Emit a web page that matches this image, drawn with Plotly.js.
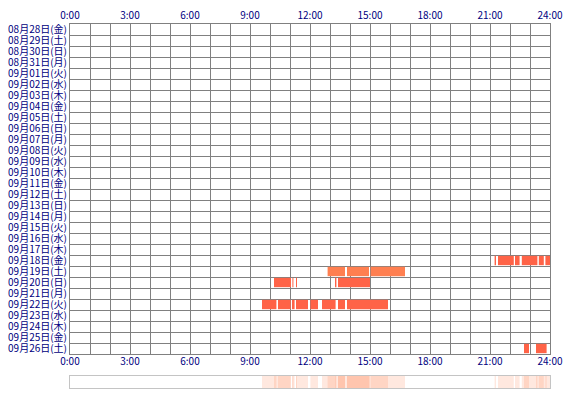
<!DOCTYPE html>
<html><head><meta charset="utf-8">
<script src="https://cdn.plot.ly/plotly-3.0.1.min.js"></script>
<style>html,body{margin:0;padding:0;background:#fff}</style>
</head><body><div id="chart" style="width:570px;height:400px"></div>
<script>
var dates = ['08月28日(金)','08月29日(土)','08月30日(日)','08月31日(月)','09月01日(火)','09月02日(水)','09月03日(木)','09月04日(金)','09月05日(土)','09月06日(日)','09月07日(月)','09月08日(火)','09月09日(水)','09月10日(木)','09月11日(金)','09月12日(土)','09月13日(日)','09月14日(月)','09月15日(火)','09月16日(水)','09月17日(木)','09月18日(金)','09月19日(土)','09月20日(日)','09月21日(月)','09月22日(火)','09月23日(水)','09月24日(木)','09月25日(金)','09月26日(土)'];
var hourTicks = [0,3,6,9,12,15,18,21,24];
var hourLabels = ['0:00','3:00','6:00','9:00','12:00','15:00','18:00','21:00','24:00'];
// activity segments (hours)
var segDay = ['09月18日(金)','09月18日(金)','09月18日(金)','09月18日(金)','09月18日(金)','09月18日(金)',
  '09月19日(土)','09月19日(土)','09月19日(土)',
  '09月20日(日)','09月20日(日)','09月20日(日)','09月20日(日)','09月20日(日)',
  '09月22日(火)','09月22日(火)','09月22日(火)','09月22日(火)','09月22日(火)','09月22日(火)','09月22日(火)','09月22日(火)',
  '09月26日(土)','09月26日(土)'];
var segStart = [21.23,21.40,22.25,22.59,23.44,23.77,
  12.88,13.85,15.03,
  10.20,11.12,11.30,13.25,13.40,
  9.60,10.40,11.10,11.30,12.02,12.60,13.40,13.85,
  22.70,23.30];
var segEnd = [21.30,22.19,22.48,23.37,23.69,24.00,
  13.75,14.95,16.75,
  11.05,11.17,11.35,13.32,15.00,
  10.32,11.03,11.23,11.90,12.40,13.28,13.75,15.90,
  22.95,23.83];

var FONT = 'Noto Sans CJK JP, sans-serif';
var NAVY = '#000080';
var GRID = '#808080';

var yPos = segDay.map(function(d){ return dates.indexOf(d) + 0.5; });
var dur = segEnd.map(function(e,i){ return e - segStart[i]; });
var cols = segDay.map(function(d){ return d === '09月19日(土)' ? '#FF7F50' : '#FF6347'; });

var traces = [
  {type:'bar', orientation:'h', x:dur, base:segStart, y:yPos, width:0.85,
   marker:{color:cols, line:{width:0}}, xaxis:'x', yaxis:'y', hoverinfo:'skip'},
  {type:'scatter', mode:'none', x:[0], y:[0.5], xaxis:'x2', yaxis:'y', hoverinfo:'skip', showlegend:false},
  {type:'bar', orientation:'h', x:dur, base:segStart, y:segStart.map(function(){return 0.5;}), width:1,
   marker:{color:'rgba(255,127,80,0.18)', line:{width:0}}, xaxis:'x3', yaxis:'y2', hoverinfo:'skip'}
];

var centers = dates.map(function(d,i){ return i + 0.5; });

var layout = {
  width:570, height:400,
  margin:{l:70, r:20, t:24, b:12, pad:0},
  paper_bgcolor:'#fff', plot_bgcolor:'#fff',
  showlegend:false, barmode:'overlay',
  font:{family:FONT, size:10, color:NAVY},
  xaxis:{domain:[0,1], anchor:'y', side:'top', range:[0,24],
    tickmode:'array', tickvals:hourTicks, ticktext:hourLabels,
    tickfont:{family:FONT, size:10, color:NAVY}, ticks:'',
    showgrid:true, gridcolor:GRID, gridwidth:1,
    minor:{tick0:0, dtick:1, showgrid:true, gridcolor:GRID, gridwidth:1, ticks:''},
    showline:true, mirror:true, linecolor:GRID, linewidth:1, zeroline:false,
    layer:'above traces', fixedrange:true},
  xaxis2:{overlaying:'x', anchor:'y', side:'bottom', range:[0,24],
    tickmode:'array', tickvals:hourTicks, ticktext:hourLabels,
    tickfont:{family:FONT, size:10, color:NAVY}, ticks:'',
    showgrid:false, showline:false, zeroline:false, fixedrange:true},
  yaxis:{domain:[0.0934,1], anchor:'x', range:[30,0],
    tickmode:'array', tickvals:centers, ticktext:dates,
    tickfont:{family:FONT, size:10, color:NAVY}, ticks:'',
    showgrid:false,
    minor:{tick0:0, dtick:1, showgrid:true, gridcolor:GRID, gridwidth:1, ticks:''},
    showline:true, mirror:true, linecolor:GRID, linewidth:1, zeroline:false,
    layer:'above traces', fixedrange:true},
  xaxis3:{domain:[0,1], anchor:'y2', range:[0,24], showticklabels:false, ticks:'',
    showgrid:false, showline:true, mirror:true, linecolor:'#c4c4c4', zeroline:false, fixedrange:true},
  yaxis2:{domain:[0,0.033], anchor:'x3', range:[0,1], showticklabels:false, ticks:'',
    showgrid:false, showline:true, mirror:true, linecolor:'#c4c4c4', zeroline:false, fixedrange:true}
};

Plotly.newPlot('chart', traces, layout, {displayModeBar:false, staticPlot:true});
</script></body></html>
